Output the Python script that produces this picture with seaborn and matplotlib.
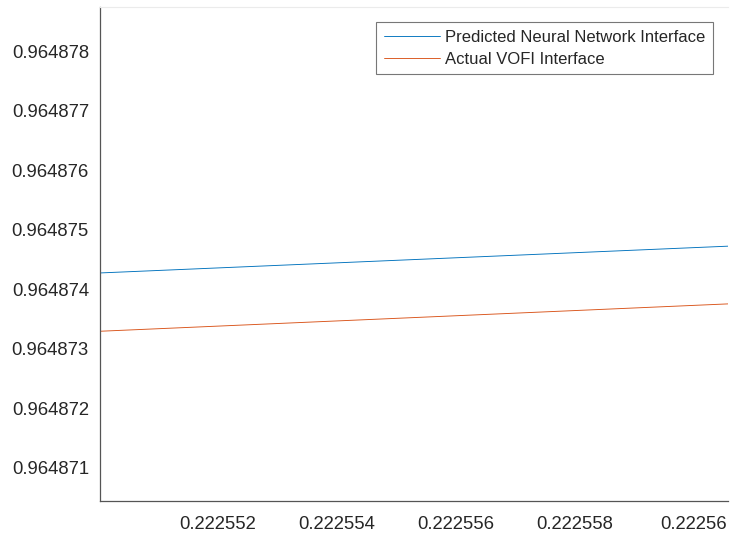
import matplotlib
matplotlib.use("Agg")
import matplotlib.pyplot as plt
import seaborn as sns
import pandas as pd
from matplotlib.ticker import FixedLocator, FixedFormatter

sns.set_style("white")
plt.rcParams['font.family'] = ['Liberation Sans', 'DejaVu Sans']

# data
x_vals = [0.22255002, 0.22256058]
predicted = [0.96487427, 0.96487472]
actual = [0.96487329, 0.96487375]
series_names = ["Predicted Neural Network Interface", "Actual VOFI Interface"]
colors = ["#0072BD", "#D95319"]

x_ticks = [0.222551, 0.222552, 0.222553, 0.222554, 0.222555, 0.222556,
           0.222557, 0.222558, 0.222559, 0.222560]
x_labels = ["", "0.222552", "", "0.222554", "", "0.222556", "", "0.222558", "", "0.22256"]
y_ticks = [0.964871, 0.964872, 0.964873, 0.964874, 0.964875, 0.964876, 0.964877, 0.964878]
y_labels = ["0.964871", "0.964872", "0.964873", "0.964874", "0.964875", "0.964876",
            "0.964877", "0.964878"]

df = pd.DataFrame({
    "x": x_vals * 2,
    "y": predicted + actual,
    "series": [series_names[0]] * len(x_vals) + [series_names[1]] * len(x_vals),
})

fig = plt.figure(figsize=(7.3, 5.38), dpi=100)
ax = fig.add_axes([100 / 730, 1 - 501 / 538, 628 / 730, 494 / 538])
sns.lineplot(data=df, x="x", y="y", hue="series", palette=colors, linewidth=0.65, ax=ax)

ax.set_xlim(0.22255002, 0.22256058)
ax.set_ylim(0.964870437, 0.96487874)
ax.xaxis.set_major_locator(FixedLocator(x_ticks))
ax.xaxis.set_major_formatter(FixedFormatter(x_labels))
ax.yaxis.set_major_locator(FixedLocator(y_ticks))
ax.yaxis.set_major_formatter(FixedFormatter(y_labels))
ax.set_xlabel("")
ax.set_ylabel("")
ax.tick_params(direction="in", length=5, width=0.8, color="#555555",
               labelsize=13.3, labelcolor="#262626")
ax.tick_params(axis="y", pad=8)
ax.tick_params(axis="x", pad=11)
for s in ["left", "bottom"]:
    ax.spines[s].set_color("#555555")
    ax.spines[s].set_linewidth(0.9)
ax.spines["right"].set_visible(False)
ax.spines["top"].set_color("#ebebeb")
ax.spines["top"].set_linewidth(0.8)

leg = ax.legend(loc="upper right", bbox_to_anchor=(613 / 628, 479 / 494), fontsize=12,
                frameon=True, fancybox=False, handlelength=3.4, handletextpad=0.3,
                borderpad=0.45, labelspacing=0.42, borderaxespad=0)
leg.get_frame().set_edgecolor("#555555")
leg.get_frame().set_linewidth(0.8)
for line in leg.get_lines():
    line.set_linewidth(0.65)

fig.savefig("out.png", dpi=100)
